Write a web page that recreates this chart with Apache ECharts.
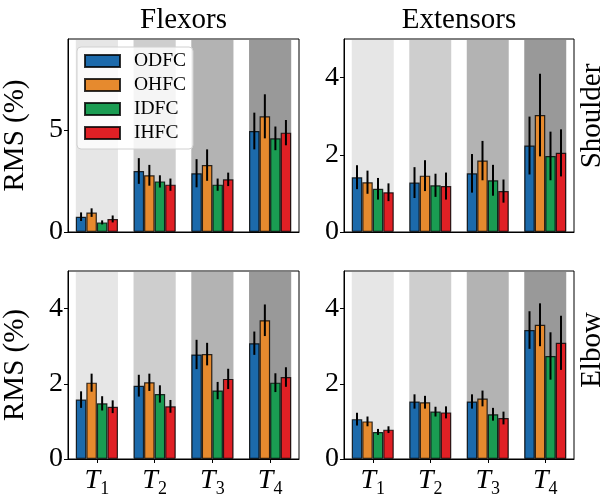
<!DOCTYPE html>
<html>
<head>
<meta charset="utf-8">
<script src="https://cdn.jsdelivr.net/npm/echarts@6/dist/echarts.min.js"></script>
<style>
  html, body { margin: 0; padding: 0; background: #fff; }
  #container { width: 610px; height: 498px; }
</style>
</head>
<body>
<div id="container"></div>
<script>
const groups = ['1', '2', '3', '4'];
const methods = ['ODFC', 'OHFC', 'IDFC', 'IHFC'];
const colors = ['#1c6aab', '#e68a2e', '#1a9c52', '#e02025'];
const shadeColors = ['#e6e6e6', '#cecece', '#b3b3b3', '#999999'];

// rows = methods (ODFC, OHFC, IDFC, IHFC), columns = T1..T4
const shoulderFlexMean = [[0.75, 2.99, 2.88, 4.95], [0.95, 2.78, 3.28, 5.67], [0.47, 2.48, 2.32, 4.59], [0.64, 2.32, 2.58, 4.87]];
const shoulderFlexErr  = [[0.21, 0.63, 0.69, 0.90], [0.21, 0.51, 0.77, 1.08], [0.10, 0.30, 0.30, 0.58], [0.17, 0.30, 0.33, 0.62]];
const shoulderExtMean  = [[1.42, 1.28, 1.52, 2.24], [1.29, 1.46, 1.85, 3.03], [1.12, 1.21, 1.34, 1.97], [1.03, 1.19, 1.06, 2.05]];
const shoulderExtErr   = [[0.31, 0.40, 0.50, 0.75], [0.30, 0.40, 0.51, 1.07], [0.28, 0.30, 0.40, 0.63], [0.23, 0.35, 0.30, 0.61]];
const elbowFlexMean    = [[1.58, 1.95, 2.78, 3.08], [2.03, 2.04, 2.79, 3.69], [1.48, 1.73, 1.82, 2.03], [1.39, 1.40, 2.13, 2.18]];
const elbowFlexErr     = [[0.22, 0.29, 0.39, 0.31], [0.24, 0.23, 0.30, 0.42], [0.19, 0.23, 0.23, 0.25], [0.17, 0.17, 0.27, 0.26]];
const elbowExtMean     = [[1.06, 1.53, 1.53, 3.43], [1.00, 1.51, 1.61, 3.57], [0.72, 1.26, 1.19, 2.74], [0.78, 1.24, 1.09, 3.09]];
const elbowExtErr      = [[0.17, 0.19, 0.19, 0.50], [0.13, 0.17, 0.21, 0.57], [0.08, 0.13, 0.17, 0.63], [0.09, 0.16, 0.17, 0.72]];

const FONT = 'Liberation Serif';
const GROUP_FRAC = 0.73;

const panels = [
  { mean: shoulderFlexMean, err: shoulderFlexErr, max: 9.46, ticks: [0, 5], name: 'RMS (%)', xlab: false, grid: { left: 68, top: 39, width: 231, height: 193 } },
  { mean: shoulderExtMean, err: shoulderExtErr, max: 5, ticks: [0, 2, 4], name: '', xlab: false, grid: { left: 344, top: 39, width: 230, height: 193 } },
  { mean: elbowFlexMean, err: elbowFlexErr, max: 5, ticks: [0, 2, 4], name: 'RMS (%)', xlab: true, grid: { left: 68, top: 271, width: 231, height: 193 } },
  { mean: elbowExtMean, err: elbowExtErr, max: 5, ticks: [0, 2, 4], name: '', xlab: true, grid: { left: 344, top: 271, width: 230, height: 193 } }
];

function renderShade(params, api) {
  const cs = params.coordSys;
  const i = api.value(0);
  const cx = api.coord([i, 0])[0];
  const w = api.size([1, 0])[0] * GROUP_FRAC;
  return {
    type: 'rect',
    shape: { x: cx - w / 2, y: cs.y + 1, width: w, height: cs.height - 1 },
    style: { fill: shadeColors[i] }
  };
}

function makeErrRender(j) {
  return function (params, api) {
    const i = api.value(0), m = api.value(1), e = api.value(2);
    const bw = api.size([1, 0])[0] * GROUP_FRAC / 4;
    const x = api.coord([i, m])[0] + (j - 1.5) * bw;
    const top = api.coord([i, m + e])[1];
    const bot = api.coord([i, m - e])[1];
    return {
      type: 'line',
      shape: { x1: x, y1: top, x2: x, y2: bot },
      style: { stroke: '#000', lineWidth: 2 }
    };
  };
}

const grids = [], xAxes = [], yAxes = [], series = [];
panels.forEach(function (p, k) {
  grids.push(Object.assign({ show: true, borderColor: '#000', borderWidth: 1, backgroundColor: 'transparent' }, p.grid));
  xAxes.push({
    type: 'category', gridIndex: k, data: groups, z: 10,
    axisLine: { lineStyle: { color: '#000', width: 1 } },
    axisTick: { show: p.xlab, alignWithLabel: true, length: 4, lineStyle: { color: '#000' } },
    axisLabel: {
      show: p.xlab,
      interval: 0,
      margin: 5,
      formatter: function (v) { return '{t|T}{s|' + v + '}'; },
      rich: {
        t: { fontFamily: FONT, fontStyle: 'italic', fontSize: 28, color: '#000' },
        s: { fontFamily: FONT, fontSize: 18, color: '#000', padding: [16, 0, 0, 0] }
      }
    }
  });
  yAxes.push({
    type: 'value', gridIndex: k, min: 0, max: p.max, z: 10,
    name: p.name, nameLocation: 'middle', nameGap: 38, nameRotate: 90,
    nameTextStyle: { fontFamily: FONT, fontSize: 29, color: '#000' },
    splitLine: { show: false },
    axisLine: { show: true, lineStyle: { color: '#000', width: 1 } },
    axisTick: { show: true, length: 4, customValues: p.ticks, lineStyle: { color: '#000' } },
    axisLabel: { customValues: p.ticks, margin: 5, fontFamily: FONT, fontSize: 28, color: '#000' }
  });
  series.push({
    type: 'custom', name: 'shade', xAxisIndex: k, yAxisIndex: k, z: 1, silent: true,
    renderItem: renderShade, encode: { x: 0, y: 1 },
    data: groups.map(function (g, i) { return [i, 0]; })
  });
  methods.forEach(function (m, j) {
    series.push({
      type: 'bar', name: m, xAxisIndex: k, yAxisIndex: k, z: 2,
      barGap: '0%', barCategoryGap: '27%',
      itemStyle: { color: colors[j], borderColor: 'rgba(0,0,0,0.8)', borderWidth: 1.2 },
      data: p.mean[j]
    });
  });
  methods.forEach(function (m, j) {
    series.push({
      type: 'custom', name: m + ' err', xAxisIndex: k, yAxisIndex: k, z: 3, silent: true,
      renderItem: makeErrRender(j), encode: { x: 0, y: 1 },
      data: p.mean[j].map(function (v, i) { return [i, v, p.err[j][i]]; })
    });
  });
});

const myChart = echarts.init(document.getElementById('container'), null, { renderer: 'canvas' });
myChart.setOption({
  animation: false,
  backgroundColor: '#fff',
  grid: grids,
  xAxis: xAxes,
  yAxis: yAxes,
  legend: {
    data: methods,
    orient: 'vertical',
    left: 77, top: 47,
    itemWidth: 35, itemHeight: 12, itemGap: 4,
    padding: [4, 7, 6, 7],
    backgroundColor: 'rgba(255,255,255,0.8)',
    borderColor: '#d0d0d0', borderWidth: 1, borderRadius: 4,
    icon: 'rect',
    z: 20,
    textStyle: { fontFamily: FONT, fontSize: 19.5, color: '#000', lineHeight: 20, padding: [0, 0, 0, 9] }
  },
  graphic: [
    { type: 'text', x: 183.5, y: 20, style: { text: 'Flexors', fontFamily: FONT, fontSize: 29, fill: '#000', align: 'center', verticalAlign: 'middle' } },
    { type: 'text', x: 459, y: 20, style: { text: 'Extensors', fontFamily: FONT, fontSize: 29, fill: '#000', align: 'center', verticalAlign: 'middle' } },
    { type: 'text', x: 592, y: 116, rotation: Math.PI / 2, style: { text: 'Shoulder', fontFamily: FONT, fontSize: 29, fill: '#000', align: 'center', verticalAlign: 'middle' } },
    { type: 'text', x: 592, y: 350, rotation: Math.PI / 2, style: { text: 'Elbow', fontFamily: FONT, fontSize: 29, fill: '#000', align: 'center', verticalAlign: 'middle' } }
  ],
  series: series
});
</script>
</body>
</html>
